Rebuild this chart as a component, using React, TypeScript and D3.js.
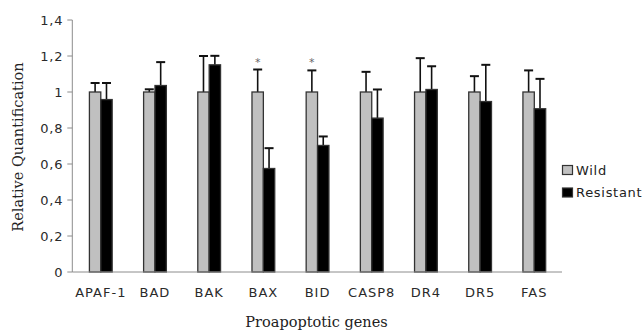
import React from "react";
import * as d3 from "d3";

const categories = ["APAF-1", "BAD", "BAK", "BAX", "BID", "CASP8", "DR4", "DR5", "FAS"];
const wildValues = [1, 1, 1, 1, 1, 1, 1, 1, 1];
const wildErrors = [0.05, 0.015, 0.2, 0.125, 0.12, 0.112, 0.188, 0.088, 0.12];
const resistantValues = [0.958, 1.036, 1.151, 0.575, 0.703, 0.855, 1.014, 0.947, 0.907];
const resistantErrors = [0.092, 0.13, 0.05, 0.113, 0.05, 0.159, 0.129, 0.204, 0.166];
const significant = ["BAX", "BID"];
const yTicks = [0, 0.2, 0.4, 0.6, 0.8, 1, 1.2, 1.4];
const seriesNames = ["Wild", "Resistant"];
const seriesColors = ["#c0c0c0", "#000000"];

export default function App() {
  const W = 644, H = 333;
  const left = 72.3, right = 562, top = 20, bottom = 272;
  const x = d3.scaleBand().domain(categories).range([left + 1.4, right - 0.6]).paddingInner(0.58).paddingOuter(0.29);
  const y = d3.scaleLinear().domain([0, 1.4]).range([bottom, top]);
  const bw = x.bandwidth() / 2;
  const fmt = (v: number) => (v === 0 ? "0" : v === 1 ? "1" : d3.format(".1f")(v).replace(".", ","));
  const series = [
    { vals: wildValues, errs: wildErrors },
    { vals: resistantValues, errs: resistantErrors },
  ];
  const sans = "DejaVu Sans";
  const serif = "DejaVu Serif";
  return (
    <svg width={W} height={H} style={{ position: "absolute", left: 0, top: 0, background: "#fff" }}>
      {/* y axis */}
      <line x1={left} x2={left} y1={top} y2={bottom} stroke="#8c8c8c" strokeWidth={1} />
      {yTicks.map((t) => (
        <g key={t}>
          <line x1={left - 5} x2={left} y1={y(t)} y2={y(t)} stroke="#8c8c8c" />
          <text x={left - 9} y={y(t)} dy="0.35em" textAnchor="end" fontFamily={sans} fontSize={13} fill="#2a2a2a" letterSpacing={0.8}>
            {fmt(t)}
          </text>
        </g>
      ))}
      {/* bars */}
      {series.map((s, si) =>
        categories.map((c, i) => {
          const bx = (x(c) as number) + si * bw;
          const cx = bx + bw / 2;
          const yv = y(s.vals[i]);
          const ye = y(s.vals[i] + s.errs[i]);
          return (
            <g key={c + si}>
              <line x1={cx} x2={cx} y1={yv} y2={ye} stroke="#111" strokeWidth={1.6} />
              <line x1={cx - 4.5} x2={cx + 4.5} y1={ye} y2={ye} stroke="#111" strokeWidth={2} />
              <rect x={bx} y={yv} width={bw} height={bottom - yv} fill={seriesColors[si]} stroke="#333" strokeWidth={1.3} />
            </g>
          );
        })
      )}
      {/* significance stars */}
      {significant.map((c) => {
        const i = categories.indexOf(c);
        const cx = (x(c) as number) + bw / 2;
        return (
          <text key={c} x={cx} y={y(wildValues[i] + wildErrors[i]) - 4} textAnchor="middle" fontFamily={sans} fontSize={11} fill="#666">
            *
          </text>
        );
      })}
      {/* x axis */}
      <line x1={left} x2={right} y1={bottom} y2={bottom} stroke="#8c8c8c" strokeWidth={1} />
      {categories.map((c) => (
        <text key={c} x={(x(c) as number) + x.bandwidth() / 2} y={292} dy="0.35em" textAnchor="middle" fontFamily={sans} fontSize={13} fill="#2a2a2a" letterSpacing={1}>
          {c}
        </text>
      ))}
      {/* titles */}
      <text transform={`translate(18,147) rotate(-90)`} textAnchor="middle" dy="0.35em" fontFamily={serif} fontSize={14.5} fill="#222">
        Relative Quantification
      </text>
      <text x={316.5} y={327} textAnchor="middle" fontFamily={serif} fontSize={14.5} fill="#222">
        Proapoptotic genes
      </text>
      {/* legend */}
      {seriesNames.map((n, i) => (
        <g key={n} transform={`translate(562,${170 + i * 22.5})`}>
          <rect x={0.5} y={-4.5} width={10} height={9} fill={seriesColors[i]} stroke="#333" strokeWidth={1.2} />
          <text x={14} y={0} dy="0.35em" fontFamily={sans} fontSize={13} fill="#222" letterSpacing={0.7}>
            {n}
          </text>
        </g>
      ))}
    </svg>
  );
}
